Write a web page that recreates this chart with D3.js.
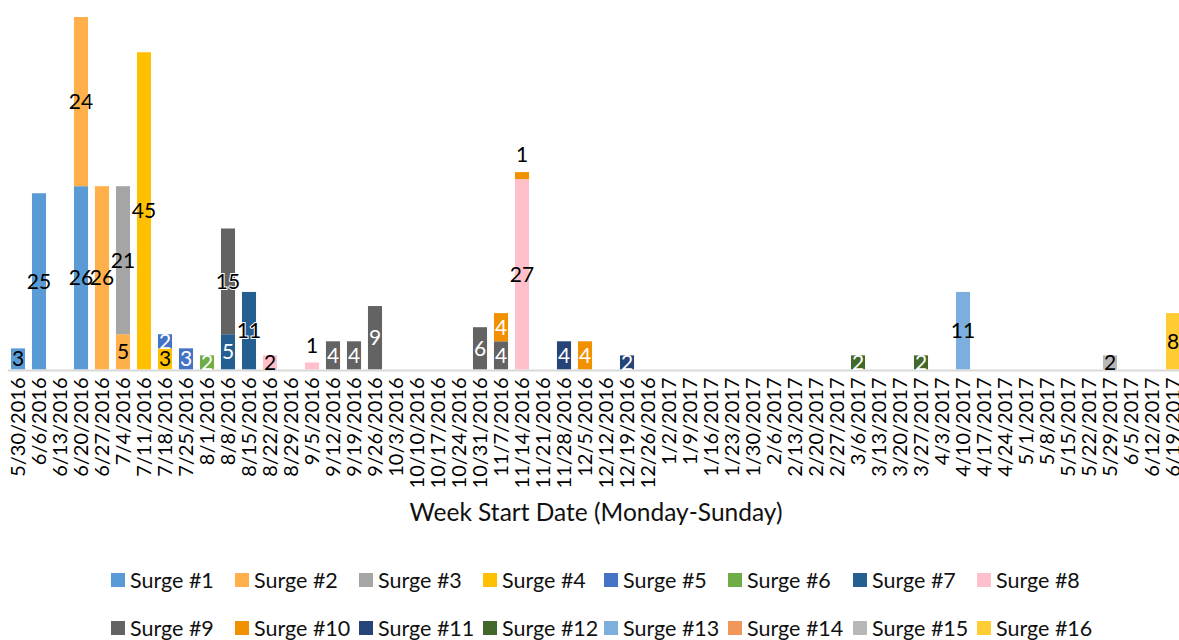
<!DOCTYPE html>
<html>
<head>
<meta charset="utf-8">
<script src="https://cdn.jsdelivr.net/npm/d3@7"></script>
<style>
  body { margin: 0; background: #fff; }
  text { font-family: Lato, "Noto Sans", sans-serif; }
</style>
</head>
<body>
<svg id="chart" width="1179" height="640"></svg>
<script>
// week start dates (x categories)
var weeks = ["5/30/2016","6/6/2016","6/13/2016","6/20/2016","6/27/2016","7/4/2016","7/11/2016","7/18/2016",
  "7/25/2016","8/1/2016","8/8/2016","8/15/2016","8/22/2016","8/29/2016","9/5/2016","9/12/2016","9/19/2016",
  "9/26/2016","10/3/2016","10/10/2016","10/17/2016","10/24/2016","10/31/2016","11/7/2016","11/14/2016",
  "11/21/2016","11/28/2016","12/5/2016","12/12/2016","12/19/2016","12/26/2016","1/2/2017","1/9/2017",
  "1/16/2017","1/23/2017","1/30/2017","2/6/2017","2/13/2017","2/20/2017","2/27/2017","3/6/2017","3/13/2017",
  "3/20/2017","3/27/2017","4/3/2017","4/10/2017","4/17/2017","4/24/2017","5/1/2017","5/8/2017","5/15/2017",
  "5/22/2017","5/29/2017","6/5/2017","6/12/2017","6/19/2017"];

var surges = ["Surge #1","Surge #2","Surge #3","Surge #4","Surge #5","Surge #6","Surge #7","Surge #8",
  "Surge #9","Surge #10","Surge #11","Surge #12","Surge #13","Surge #14","Surge #15","Surge #16"];

var colors = ["#5b9bd5","#ffb04b","#a5a5a5","#ffc000","#4472c4","#70ad47","#255e91","#ffc0cb",
  "#636363","#f29100","#264478","#43682b","#7cafdd","#f1975a","#b7b7b7","#ffcd33"];

// series whose labels are drawn in white
var whiteLabel = ["Surge #5","Surge #6","Surge #7","Surge #9","Surge #10","Surge #11","Surge #12"];

// counts per surge: [week, count]
var surge1 = [["5/30/2016",3],["6/6/2016",25],["6/20/2016",26]];
var surge2 = [["6/20/2016",24],["6/27/2016",26],["7/4/2016",5]];
var surge3 = [["7/4/2016",21]];
var surge4 = [["7/11/2016",45],["7/18/2016",3]];
var surge5 = [["7/18/2016",2],["7/25/2016",3]];
var surge6 = [["8/1/2016",2]];
var surge7 = [["8/8/2016",5],["8/15/2016",11]];
var surge8 = [["8/22/2016",2],["9/5/2016",1],["11/14/2016",27]];
var surge9 = [["8/8/2016",15],["9/12/2016",4],["9/19/2016",4],["9/26/2016",9],["10/31/2016",6],["11/7/2016",4]];
var surge10 = [["11/7/2016",4],["11/14/2016",1],["12/5/2016",4]];
var surge11 = [["11/28/2016",4],["12/19/2016",2]];
var surge12 = [["3/6/2017",2],["3/27/2017",2]];
var surge13 = [["4/10/2017",11]];
var surge14 = [];
var surge15 = [["5/29/2017",2]];
var surge16 = [["6/19/2017",8]];

var seriesData = [surge1,surge2,surge3,surge4,surge5,surge6,surge7,surge8,
  surge9,surge10,surge11,surge12,surge13,surge14,surge15,surge16];

// build table for d3.stack
var table = weeks.map(function(w){
  var row = {week: w};
  surges.forEach(function(s, i){
    var hit = seriesData[i].find(function(p){ return p[0] === w; });
    row[s] = hit ? hit[1] : 0;
  });
  return row;
});

var svg = d3.select("#chart");
var baseY = 369.5;

var x = d3.scaleBand()
  .domain(weeks)
  .range([7.5, 7.5 + weeks.length * 21])
  .paddingInner(0.33)
  .paddingOuter(0.165);

var y = d3.scaleLinear().domain([0, 50]).range([baseY, 17]);

var color = d3.scaleOrdinal().domain(surges).range(colors);

var stacked = d3.stack().keys(surges)(table);

var layers = svg.append("g").selectAll("g")
  .data(stacked)
  .enter().append("g")
  .attr("fill", function(d){ return color(d.key); });

layers.selectAll("rect")
  .data(function(d){ return d.filter(function(s){ return s[1] - s[0] > 0; }); })
  .enter().append("rect")
  .attr("x", function(d){ return x(d.data.week); })
  .attr("width", x.bandwidth())
  .attr("y", function(d){ return y(d[1]); })
  .attr("height", function(d){ return y(d[0]) - y(d[1]); });

// baseline
svg.append("line")
  .attr("x1", 8).attr("x2", 1179)
  .attr("y1", baseY + 1).attr("y2", baseY + 1)
  .attr("stroke", "#d9d9d9").attr("stroke-width", 2);

// data labels
var labels = [];
stacked.forEach(function(layer){
  layer.forEach(function(s){
    var v = s[1] - s[0];
    if (v > 0) labels.push({key: layer.key, week: s.data.week, v: v, y0: s[0], y1: s[1]});
  });
});

svg.append("g").selectAll("text")
  .data(labels)
  .enter().append("text")
  .attr("x", function(d){ return x(d.week) + x.bandwidth() / 2; })
  .attr("y", function(d){
    if (d.v === 1) return y(d.y1) - 17;
    return (y(d.y0) + y(d.y1)) / 2;
  })
  .attr("dy", "0.35em")
  .attr("text-anchor", "middle")
  .style("font-size", "21px")
  .style("paint-order", "stroke")
  .attr("stroke", function(d){
    return (whiteLabel.indexOf(d.key) >= 0 && d.v >= 10) ? "#fff" : "none";
  })
  .attr("stroke-width", 2)
  .attr("fill", function(d){
    if (d.v === 1) return "#000";
    if (whiteLabel.indexOf(d.key) >= 0 && d.v < 10) return "#fff";
    return "#000";
  })
  .text(function(d){ return d.v; });

// x tick labels
var xAxis = svg.append("g")
  .attr("transform", "translate(0," + (baseY + 8) + ")")
  .call(d3.axisBottom(x).tickSize(0).tickPadding(0));
xAxis.select(".domain").remove();
xAxis.selectAll("text")
  .attr("transform", "rotate(-90)")
  .attr("x", 0).attr("y", 0).attr("dy", "0.35em")
  .attr("text-anchor", "end")
  .style("font-family", "Lato, sans-serif")
  .style("font-size", "20px")
  .attr("fill", "#000");

// axis title
svg.append("text")
  .attr("x", 596).attr("y", 512)
  .attr("dy", "0.35em")
  .attr("text-anchor", "middle")
  .style("font-size", "24.5px")
  .attr("fill", "#111")
  .text("Week Start Date (Monday-Sunday)");

// legend
var legendX = [111, 235, 359, 483, 604, 728, 853, 977];
var legend = svg.append("g").selectAll("g")
  .data(surges)
  .enter().append("g")
  .attr("transform", function(d, i){
    return "translate(" + legendX[i % 8] + "," + (i < 8 ? 580 : 628) + ")";
  });
legend.append("rect")
  .attr("x", 0).attr("y", -7).attr("width", 14).attr("height", 14)
  .attr("fill", function(d){ return color(d); });
legend.append("text")
  .attr("x", 19).attr("y", 0).attr("dy", "0.35em")
  .style("font-size", "21.5px")
  .attr("fill", "#111")
  .text(function(d){ return d; });
</script>
</body>
</html>
